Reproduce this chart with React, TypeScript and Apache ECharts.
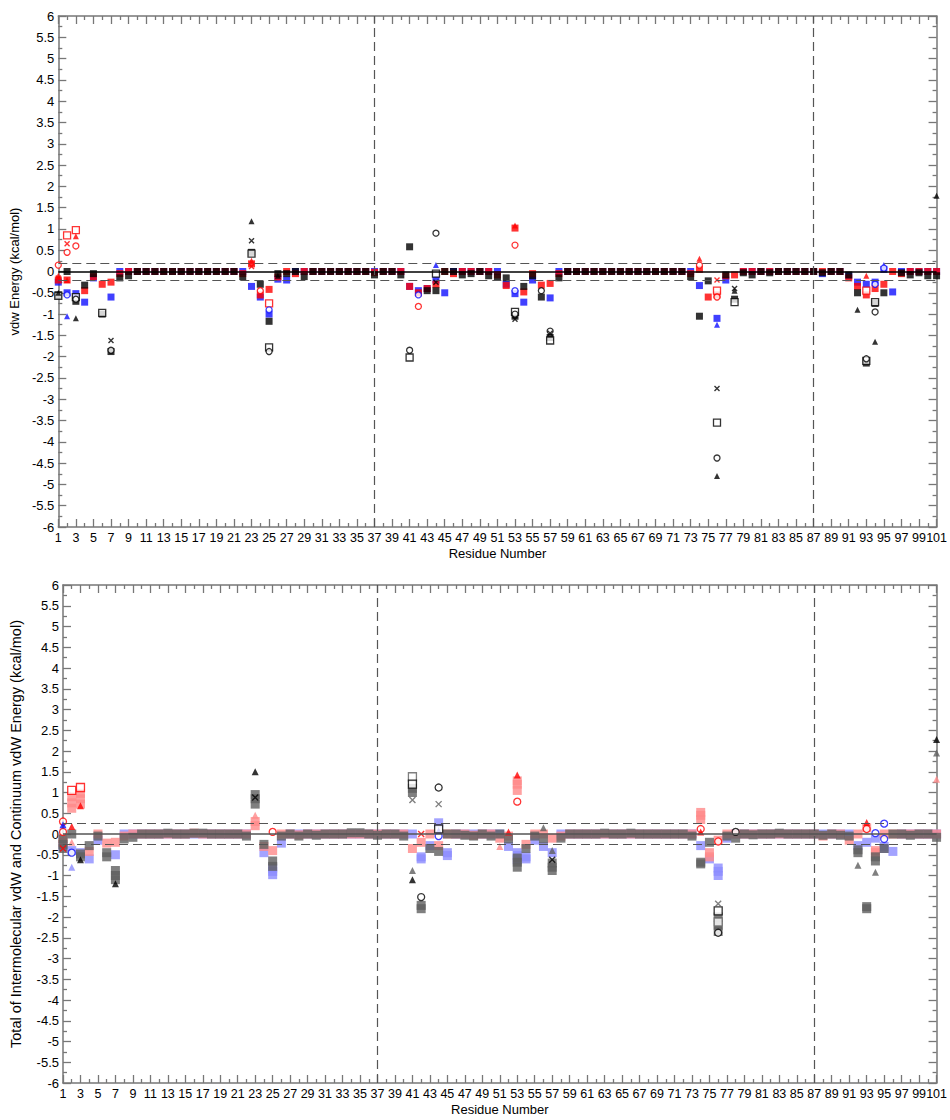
import React, { useEffect, useRef } from "react";
import * as echarts from "echarts";

// ---------- DATA (residue 1..101, null = no marker) ----------
const RESIDUE_MIN = 1;
const RESIDUE_MAX = 101;
const Y_MIN = -6;
const Y_MAX = 6;
const DIVIDERS = [37, 87];
const TOP_BAND = 0.2;
const BOT_BAND = 0.25;

// Top panel: filled squares per residue
const TOP_BLACK = [
  -0.55, 0, -0.7, -0.32, -0.05, -1.0, -1.88, -0.15, -0.1, 0,
  0, 0, 0, 0, 0, 0, 0, 0, 0, 0,
  0, -0.12, 0.45, -0.3, -1.17, -0.05, -0.05, 0, -0.12, 0,
  0, 0, 0, 0, 0, 0, -0.08, 0, 0, -0.08,
  0.58, null, -0.45, -0.45, 0, 0, -0.08, -0.05, 0, -0.1,
  -0.12, -0.15, -1.05, -0.35, -0.1, -0.6, -1.55, -0.15, 0, 0,
  0, 0, 0, 0, 0, 0, 0, 0, 0, 0,
  0, 0, -0.12, -1.05, -0.22, null, -0.08, -0.65, -0.03, -0.08,
  0, -0.03, 0, 0, 0, 0, 0, -0.03, 0, 0,
  -0.08, -0.5, -2.15, -0.75, -0.5, null, -0.03, -0.08, -0.03, -0.1,
  -0.1,
];
const TOP_RED = [
  -0.2, -0.2, null, -0.45, -0.12, -0.3, -0.25, -0.05, 0, 0,
  0, 0, 0, 0, 0, 0, 0, 0, 0, 0,
  0, -0.05, 0.18, -0.55, -0.42, -0.13, 0, -0.05, 0, 0,
  0, 0, 0, 0, 0, 0, -0.02, 0, 0, 0,
  -0.35, -0.5, -0.4, -0.3, 0, -0.05, 0, 0, 0, 0,
  -0.08, -0.33, 1.02, -0.48, -0.05, -0.32, -0.28, -0.05, 0, 0,
  0, 0, 0, 0, 0, 0, 0, 0, 0, 0,
  0, 0, -0.05, 0.05, -0.6, -0.55, -0.1, -0.08, 0, 0,
  0, 0, 0, 0, 0, 0, 0, 0, 0, 0,
  -0.15, -0.35, -0.55, -0.4, -0.3, 0, -0.05, 0, 0, 0,
  0,
];
const TOP_BLUE = [
  -0.25, -0.5, -0.52, -0.72, -0.15, null, -0.6, 0, 0, 0,
  0, 0, 0, 0, 0, 0, 0, 0, 0, 0,
  0, 0, -0.35, -0.6, -1.0, -0.18, -0.2, 0, 0, 0,
  0, 0, 0, 0, 0, 0, 0, 0, 0, 0,
  -0.35, -0.45, -0.4, -0.2, -0.5, 0, 0, 0, 0, 0,
  0, -0.3, -0.52, -0.72, -0.2, null, -0.62, 0, 0, 0,
  0, 0, 0, 0, 0, 0, 0, 0, 0, 0,
  0, 0, 0, -0.33, null, -1.1, -0.2, null, 0, 0,
  0, 0, 0, 0, 0, 0, 0, -0.05, 0, 0,
  -0.1, -0.25, -0.3, -0.25, 0.05, -0.48, 0, 0, 0, 0,
  0,
];
// Top panel: other markers [residue, value]
const TOP_RED_OPEN_SQ = [[2, 0.85], [3, 0.97], [25, -0.75], [76, -0.45], [93, -0.45]];
const TOP_RED_CIRCLE = [[1, 0.15], [2, 0.45], [3, 0.6], [24, -0.45], [42, -0.82], [53, 0.62], [74, 0.15], [76, -0.6]];
const TOP_RED_TRI = [[1, -0.1], [2, -0.2], [3, 0.83], [23, 0.25], [53, 1.08], [74, 0.3], [93, -0.1]];
const TOP_RED_CROSS = [[1, -0.15], [2, 0.65], [23, 0.12], [76, -0.2]];
const TOP_BLUE_TRI = [[2, -1.05], [44, 0.15], [76, -1.25], [95, 0.15]];
const TOP_BLUE_CIRCLE = [[2, -0.55], [25, -0.9], [42, -0.55], [53, -0.45], [94, -0.3], [95, 0.08]];
const TOP_BLACK_TRI = [[1, -0.5], [3, -1.1], [23, 1.18], [26, -0.1], [76, -4.8], [78, -0.45], [92, -0.9], [94, -1.65], [101, 1.78]];
const TOP_BLACK_CROSS = [[7, -1.62], [23, 0.72], [44, -0.25], [53, -1.12], [57, -1.45], [76, -2.75], [78, -0.4]];
const TOP_BLACK_OPEN_SQ = [[1, -0.57], [3, -0.6], [6, -0.97], [23, 0.42], [25, -1.78], [41, -2.02], [44, -0.05], [53, -0.95], [57, -1.62], [76, -3.55], [78, -0.72], [93, -2.1], [94, -0.72]];
const TOP_BLACK_CIRCLE = [[3, -0.65], [7, -1.85], [25, -1.88], [41, -1.85], [44, 0.9], [53, -1.0], [56, -0.45], [57, -1.4], [76, -4.38], [93, -2.05], [94, -0.95]];

// Bottom panel: filled squares per residue
const BOT_GRAY = [
  -0.25, 0, -0.55, -0.28, -0.05, -0.45, -1.0, -0.12, -0.08, 0,
  0, 0, 0.02, 0, 0, 0.02, 0.02, 0, 0, 0,
  0, -0.05, 0.85, -0.25, -0.65, -0.05, 0, -0.05, 0, -0.03,
  0, 0, 0, 0.03, 0.03, 0, -0.03, 0, 0, -0.05,
  1.1, -1.72, -0.35, -0.42, 0, 0, -0.03, -0.05, 0, -0.05,
  0, -0.12, -0.68, -0.35, -0.05, -0.12, -0.8, -0.1, 0, 0,
  0, 0, 0.02, 0, 0, 0.02, 0, 0, 0, 0,
  0, 0, -0.05, -0.72, -0.2, -2.2, -0.05, -0.1, 0, -0.02,
  0, 0, 0.02, 0, 0, 0, 0, -0.03, 0, -0.03,
  -0.05, -0.45, -1.8, -0.55, -0.35, 0, 0, -0.03, 0, 0,
  -0.08,
];
const BOT_PINK = [
  -0.2, 0.75, 0.85, -0.42, 0, -0.22, -0.2, -0.05, 0, 0,
  0, 0, 0, 0, 0, 0.02, 0, 0, 0, 0,
  0, 0, 0.3, -0.3, -0.4, 0, 0, -0.02, 0, 0,
  0, 0, 0, 0, 0, 0, 0, 0, 0, 0,
  -0.35, -0.2, 0, -0.28, 0, 0, 0, -0.03, 0, 0,
  -0.1, -0.05, 1.2, -0.25, 0, 0, -0.1, -0.05, 0, 0,
  0, 0, 0, 0, 0, 0, 0, 0, 0, 0,
  0, 0, 0, 0.45, -0.45, -0.15, 0, 0, 0, 0,
  0, 0, 0, 0, 0, 0, 0, -0.05, 0, 0,
  -0.15, 0, 0.15, -0.4, 0, 0, 0, 0, 0, 0,
  0,
];
const BOT_LBLUE = [
  -0.3, -0.4, -0.45, -0.6, -0.15, null, -0.5, 0, 0, 0,
  0, 0, 0, 0, 0, 0, 0, 0, 0, 0,
  0, 0, null, -0.45, -0.9, -0.22, 0, 0, 0, 0,
  0, 0, 0, 0, 0, 0, 0, 0, 0, 0,
  0, -0.55, -0.28, 0.27, -0.52, 0, 0, 0, 0, 0,
  0, -0.3, -0.52, -0.6, -0.15, -0.3, -0.45, 0, 0, 0,
  0, 0, 0, 0, 0, 0, 0, 0, 0, 0,
  0, 0, 0, -0.28, -0.6, -0.9, -0.1, 0, 0, 0,
  0, 0, 0, 0, 0, 0, 0, 0, 0, 0,
  0, -0.28, -0.2, -0.1, -0.35, -0.42, 0, 0, 0, 0,
  0,
];
// Bottom panel: other markers [residue, value]
const BOT_GRAY_EXTRA = [[1, -0.35], [1, -0.12], [3, -0.48], [6, -0.55], [7, -0.88], [7, -1.1], [23, 0.72], [23, 0.95], [25, -0.78], [41, 1.0], [42, -1.8], [53, -0.58], [53, -0.8], [57, -0.7], [57, -0.88], [74, -0.68], [76, -2.0], [76, -2.35], [92, -0.38], [93, -1.75], [94, -0.65]];
const BOT_PINK_EXTRA = [[1, -0.1], [2, 0.62], [2, 0.9], [3, 0.72], [3, 0.98], [23, 0.2], [53, 1.05], [53, 1.28], [74, 0.35], [74, 0.52], [75, -0.55], [94, -0.45]];
const BOT_LBLUE_EXTRA = [[25, -0.82], [25, -0.98], [42, -0.6], [45, -0.45], [53, -0.45], [53, -0.62], [54, -0.55], [76, -0.82], [76, -1.0], [95, -0.3]];
const BOT_RED_OPEN_SQ = [[2, 1.05], [3, 1.12]];
const BOT_RED_CIRCLE = [[1, 0.3], [1, 0.05], [25, 0.05], [53, 0.78], [74, 0.12], [76, -0.18], [93, 0.12]];
const BOT_RED_TRI = [[2, 0.18], [3, 0.68], [52, 0.05], [53, 1.42], [74, 0.05], [93, 0.28]];
const BOT_RED_CROSS = [[1, -0.35], [42, 0.0]];
const BOT_BLUE_CIRCLE = [[2, -0.45], [44, -0.05], [94, 0.02], [95, 0.25], [95, -0.12]];
const BOT_BLUE_TRI = [[1, 0.22], [44, 0.08]];
const BOT_LBLUE_TRI = [[2, -0.8]];
const BOT_PINK_TRI = [[2, -0.2], [23, 0.45], [51, -0.3], [101, 1.32]];
const BOT_BLACK_TRI = [[3, -0.62], [7, -1.2], [23, 1.5], [41, -1.1], [101, 2.28]];
const BOT_GRAY_TRI = [[41, -0.88], [56, 0.15], [57, -0.4], [92, -0.75], [94, -0.92], [101, 1.95]];
const BOT_BLACK_CIRCLE = [[42, -1.52], [44, 1.12], [76, -2.38], [78, 0.05]];
const BOT_BLACK_OPEN_SQ = [[41, 1.2], [44, 0.12], [76, -1.85]];
const BOT_GRAY_OPEN_SQ = [[41, 1.38], [76, -2.12]];
const BOT_GRAY_CROSS = [[41, 0.82], [44, 0.72], [76, -1.68]];
const BOT_BLACK_CROSS = [[23, 0.88], [57, -0.62]];

// ---------- helpers ----------
const CROSS = "path://M0,0L10,10M10,0L0,10";
const FONT = "Liberation Sans, Arial, sans-serif";

const toPts = (arr: (number | null)[]) =>
  arr.map((v, i) => (v === null ? null : [RESIDUE_MIN + i, v])).filter((p) => p !== null);

type Kind = "fill" | "open" | "tri" | "cross" | "circle";

function sc(data: any[], kind: Kind, color: string, grid: number, size = 7): any {
  let symbol = "rect";
  let itemStyle: any = { color };
  if (kind === "open") {
    itemStyle = { color: "#fff", borderColor: color, borderWidth: 1.3 };
  } else if (kind === "circle") {
    symbol = "circle";
    itemStyle = { color: "#fff", borderColor: color, borderWidth: 1.3 };
  } else if (kind === "tri") {
    symbol = "triangle";
  } else if (kind === "cross") {
    symbol = CROSS;
    itemStyle = { color: "none", borderColor: color, borderWidth: 1.4 };
  }
  return {
    type: "scatter",
    xAxisIndex: grid * 2,
    yAxisIndex: grid * 2,
    data,
    symbol,
    symbolSize: size,
    itemStyle,
    silent: true,
  };
}

function guides(grid: number, band: number, zeroColor: string): any {
  const dash = { type: [9, 5], color: "#555", width: 1.2 };
  return {
    type: "scatter",
    xAxisIndex: grid * 2,
    yAxisIndex: grid * 2,
    data: [],
    silent: true,
    markLine: {
      silent: true,
      symbol: ["none", "none"],
      label: { show: false },
      animation: false,
      data: [
        { yAxis: 0, lineStyle: { type: "solid", color: zeroColor, width: 1.5 } },
        { yAxis: band, lineStyle: dash },
        { yAxis: -band, lineStyle: dash },
        ...DIVIDERS.map((d) => ({ xAxis: d, lineStyle: dash })),
      ],
    },
  };
}

function xAxes(grid: number, nameGap: number): any[] {
  const common = {
    type: "value",
    gridIndex: grid,
    min: RESIDUE_MIN,
    max: RESIDUE_MAX,
    interval: 2,
    axisLine: { show: true, onZero: false, lineStyle: { color: "#777", width: 1.5 } },
    axisTick: { show: true, inside: true, length: 8, lineStyle: { color: "#777", width: 1.3 } },
    minorTick: { show: true, splitNumber: 2, length: 4, lineStyle: { color: "#777", width: 1.3 } },
    splitLine: { show: false },
    minorSplitLine: { show: false },
  };
  return [
    {
      ...common,
      position: "bottom",
      axisLabel: { color: "#000", fontSize: 12.5, fontFamily: FONT, margin: 4, showMinLabel: true, showMaxLabel: true },
      name: "Residue Number",
      nameLocation: "middle",
      nameGap,
      nameTextStyle: { color: "#000", fontSize: 13, fontFamily: FONT },
    },
    { ...common, position: "top", axisLabel: { show: false } },
  ];
}

function yAxes(grid: number, name: string, nameGap: number, nameSize: number): any[] {
  const common = {
    type: "value",
    gridIndex: grid,
    min: Y_MIN,
    max: Y_MAX,
    interval: 0.5,
    axisLine: { show: true, onZero: false, lineStyle: { color: "#777", width: 1.5 } },
    axisTick: { show: true, inside: true, length: 8, lineStyle: { color: "#777", width: 1.3 } },
    minorTick: { show: true, splitNumber: 2, length: 4, lineStyle: { color: "#777", width: 1.3 } },
    splitLine: { show: false },
    minorSplitLine: { show: false },
  };
  return [
    {
      ...common,
      position: "left",
      axisLabel: { color: "#000", fontSize: 13, fontFamily: FONT, margin: 4 },
      name,
      nameLocation: "middle",
      nameGap,
      nameTextStyle: { color: "#000", fontSize: nameSize, fontFamily: FONT },
    },
    { ...common, position: "right", axisLabel: { show: false } },
  ];
}

export default function App() {
  const ref = useRef<HTMLDivElement>(null);
  useEffect(() => {
    if (!ref.current) return;
    const chart = echarts.init(ref.current, null, { renderer: "svg" });
    const RED = "#ff0000";
    const BLUE = "#1010ff";
    const BLACK = "#000000";
    const PINK = "#ff8a8a";
    const LBLUE = "#8c8cff";
    const GRAY = "#5f5f5f";
    const series: any[] = [
      guides(0, TOP_BAND, "#000"),
      sc(toPts(TOP_BLUE), "fill", BLUE, 0),
      sc(toPts(TOP_RED), "fill", RED, 0),
      sc(toPts(TOP_BLACK), "fill", BLACK, 0),
      sc(TOP_RED_OPEN_SQ, "open", RED, 0, 7),
      sc(TOP_RED_CIRCLE, "circle", RED, 0, 6),
      sc(TOP_RED_TRI, "tri", RED, 0, 6),
      sc(TOP_RED_CROSS, "cross", RED, 0, 5),
      sc(TOP_BLUE_TRI, "tri", BLUE, 0, 6),
      sc(TOP_BLUE_CIRCLE, "circle", BLUE, 0, 6),
      sc(TOP_BLACK_OPEN_SQ, "open", BLACK, 0, 7),
      sc(TOP_BLACK_CIRCLE, "circle", BLACK, 0, 6),
      sc(TOP_BLACK_TRI, "tri", BLACK, 0, 6),
      sc(TOP_BLACK_CROSS, "cross", BLACK, 0, 5),

      guides(1, BOT_BAND, "#555"),
      sc(toPts(BOT_LBLUE), "fill", LBLUE, 1, 9),
      sc(BOT_LBLUE_EXTRA, "fill", LBLUE, 1, 9),
      sc(toPts(BOT_PINK), "fill", PINK, 1, 9),
      sc(BOT_PINK_EXTRA, "fill", PINK, 1, 9),
      sc(toPts(BOT_GRAY), "fill", GRAY, 1, 9),
      sc(BOT_GRAY_EXTRA, "fill", GRAY, 1, 9),
      sc(BOT_RED_OPEN_SQ, "open", RED, 1, 8),
      sc(BOT_RED_CIRCLE, "circle", RED, 1, 7),
      sc(BOT_RED_TRI, "tri", RED, 1, 7),
      sc(BOT_RED_CROSS, "cross", RED, 1, 6),
      sc(BOT_PINK_TRI, "tri", PINK, 1, 7),
      sc(BOT_BLUE_CIRCLE, "circle", BLUE, 1, 7),
      sc(BOT_BLUE_TRI, "tri", BLUE, 1, 7),
      sc(BOT_LBLUE_TRI, "tri", LBLUE, 1, 7),
      sc(BOT_GRAY_OPEN_SQ, "open", GRAY, 1, 8),
      sc(BOT_BLACK_OPEN_SQ, "open", BLACK, 1, 8),
      sc(BOT_GRAY_TRI, "tri", GRAY, 1, 7),
      sc(BOT_BLACK_TRI, "tri", BLACK, 1, 7),
      sc(BOT_BLACK_CIRCLE, "circle", BLACK, 1, 7),
      sc(BOT_GRAY_CROSS, "cross", GRAY, 1, 6),
      sc(BOT_BLACK_CROSS, "cross", BLACK, 1, 6),
    ];
    chart.setOption({
      animation: false,
      backgroundColor: "#fff",
      grid: [
        { left: 51, right: 11, top: 16, height: 511 },
        { left: 59, right: 10, top: 585, height: 498 },
      ],
      xAxis: [...xAxes(0, 20), ...xAxes(1, 20)],
      yAxis: [
        ...yAxes(0, "vdw Energy (kcal/mol)", 32, 13),
        ...yAxes(1, "Total of Intermolecular vdW and Continuum vdW Energy (kcal/mol)", 40, 14.5),
      ],
      series,
    });
    return () => chart.dispose();
  }, []);
  return <div ref={ref} style={{ position: "absolute", left: 0, top: 0, width: 950, height: 1120 }} />;
}
